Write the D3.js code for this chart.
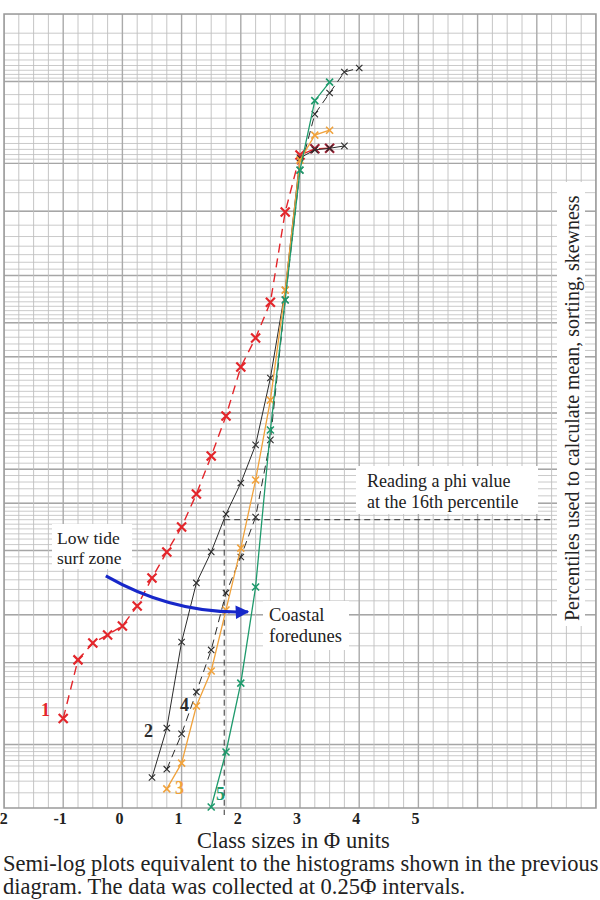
<!DOCTYPE html>
<html>
<head>
<meta charset="utf-8">
<script src="https://cdn.jsdelivr.net/npm/d3@7"></script>
<style>
  html, body { margin: 0; padding: 0; background: #fff; }
  svg { display: block; }
  text { font-family: "Liberation Serif", "DejaVu Serif", serif; }
</style>
</head>
<body>
<svg id="chart" width="600" height="900"></svg>
<script>
// Cumulative weight percent against grain size (phi), on probability paper.
const phiTicks = [-2, -1, 0, 1, 2, 3, 4, 5];

const s1Phi = [-1, -0.75, -0.5, -0.25, 0, 0.25, 0.5, 0.75, 1, 1.25, 1.5, 1.75, 2, 2.25, 2.5, 2.75, 3, 3.25, 3.5];
const s1Pct = [0.22, 1.07, 1.6, 1.93, 2.36, 3.6, 6.2, 9.77, 14.4, 22.5, 34.4, 48.9, 66.6, 75.8, 84.9, 96.95, 99.19, 99.31, 99.32];

const s2Phi = [0.5, 0.75, 1, 1.25, 1.5, 1.75, 2, 2.25, 2.5, 2.75, 3, 3.25, 3.5, 3.75];
const s2Pct = [0.034, 0.166, 1.64, 5.66, 9.77, 17.3, 25.7, 38.3, 62.8, 87.4, 99.13, 99.29, 99.32, 99.36];

const s3Phi = [0.75, 1, 1.25, 1.5, 1.75, 2, 2.25, 2.5, 2.75, 3, 3.25, 3.5];
const s3Pct = [0.023, 0.055, 0.316, 0.81, 3.32, 10.4, 26.6, 54.8, 87.4, 99.08, 99.52, 99.58];

const s4Phi = [0.75, 1, 1.25, 1.5, 1.75, 2, 2.25, 2.5, 2.75, 3, 3.25, 3.5, 3.75, 4];
const s4Pct = [0.045, 0.139, 0.466, 1.36, 4.67, 8.98, 16.6, 40.1, 85.4, 98.82, 99.733, 99.857, 99.926, 99.935];

const s5Phi = [1.5, 1.75, 2, 2.25, 2.5, 2.75, 3, 3.25, 3.5];
const s5Pct = [0.012, 0.079, 0.59, 5.24, 43.7, 85.4, 98.82, 99.82, 99.898];

// Probability-paper rulings (percent)
const rulePct = [].concat(
  d3.range(0.01, 0.1, 0.01), d3.range(0.1, 1, 0.1), [0.15, 1.5, 98.5, 99.85],
  d3.range(1, 10, 1), d3.range(10, 20, 1), d3.range(20, 80, 2), d3.range(80, 90, 1),
  d3.range(90, 99, 1), d3.range(99, 99.9, 0.1), d3.range(99.9, 99.995, 0.01)
);
const rulePctMajor = [0.1, 1, 3, 10, 20, 30, 50, 70, 80, 90, 97, 99, 99.9];

// Inverse standard normal CDF (Acklam)
function probit(p) {
  const a = [-3.969683028665376e+01, 2.209460984245205e+02, -2.759285104469687e+02, 1.383577518672690e+02, -3.066479806614716e+01, 2.506628277459239e+00];
  const b = [-5.447609879822406e+01, 1.615858368580409e+02, -1.556989798598866e+02, 6.680131188771972e+01, -1.328068155288572e+01];
  const c = [-7.784894002430293e-03, -3.223964580411365e-01, -2.400758277161838e+00, -2.549732539343734e+00, 4.374664141464968e+00, 2.938163982698783e+00];
  const d = [7.784695709041462e-03, 3.224671290700398e-01, 2.445134137142996e+00, 3.754408661907416e+00];
  const pl = 0.02425, ph = 1 - pl;
  if (p < pl) {
    const q = Math.sqrt(-2 * Math.log(p));
    return (((((c[0]*q+c[1])*q+c[2])*q+c[3])*q+c[4])*q+c[5]) / ((((d[0]*q+d[1])*q+d[2])*q+d[3])*q+1);
  }
  if (p <= ph) {
    const q = p - 0.5, r = q * q;
    return (((((a[0]*r+a[1])*r+a[2])*r+a[3])*r+a[4])*r+a[5])*q / (((((b[0]*r+b[1])*r+b[2])*r+b[3])*r+b[4])*r+1);
  }
  const q = Math.sqrt(-2 * Math.log(1 - p));
  return -(((((c[0]*q+c[1])*q+c[2])*q+c[3])*q+c[4])*q+c[5]) / ((((d[0]*q+d[1])*q+d[2])*q+d[3])*q+1);
}

const svg = d3.select("#chart");
const frameL = 4, frameR = 596, frameT = 14, frameB = 808;

const x = d3.scaleLinear().domain([-2, 8]).range([frameL, frameR]);
const zScale = d3.scaleLinear().domain([probit(0.0001), probit(0.9999)]).range([812, frameT]);
const y = pct => zScale(probit(pct / 100));

const defs = svg.append("defs");
defs.append("clipPath").attr("id", "frame")
  .append("rect").attr("x", frameL).attr("y", frameT).attr("width", frameR - frameL).attr("height", frameB - frameT);
const plot = svg.append("g");

// Grid
const grid = plot.append("g").attr("clip-path", "url(#frame)");
grid.selectAll("line.h").data(rulePct).join("line").attr("class", "h")
  .attr("x1", frameL).attr("x2", frameR)
  .attr("y1", d => y(d)).attr("y2", d => y(d))
  .attr("stroke", "#bcbcbc").attr("stroke-width", 0.8);
grid.selectAll("line.hm").data(rulePctMajor).join("line").attr("class", "hm")
  .attr("x1", frameL).attr("x2", frameR)
  .attr("y1", d => y(d)).attr("y2", d => y(d))
  .attr("stroke", "#a6a6a6").attr("stroke-width", 1.4);
grid.selectAll("line.v").data(d3.range(-2, 8.01, 0.25)).join("line").attr("class", "v")
  .attr("y1", frameT).attr("y2", frameB)
  .attr("x1", d => x(d)).attr("x2", d => x(d))
  .attr("stroke", d => Number.isInteger(d) ? "#aaaaaa" : "#bfbfbf")
  .attr("stroke-width", d => Number.isInteger(d) ? 1.4 : 0.9);
plot.append("rect").attr("x", frameL).attr("y", frameT).attr("width", frameR - frameL).attr("height", frameB - frameT)
  .attr("fill", "none").attr("stroke", "#9a9a9a").attr("stroke-width", 1.5);

// White label panels over the grid
function panel(x0, y0, w, h) {
  plot.append("rect").attr("x", x0).attr("y", y0).attr("width", w).attr("height", h).attr("fill", "#fff");
}
panel(356, 466, 182, 48);
panel(52, 524, 80, 45);
panel(263, 601, 86, 49);
panel(557, 182, 28, 444);

// 16th percentile reading
const dashPhi = 1.72;
plot.append("line").attr("x1", x(dashPhi)).attr("x2", x(7.3)).attr("y1", y(16)).attr("y2", y(16))
  .attr("stroke", "#333").attr("stroke-width", 1).attr("stroke-dasharray", "6,4");
plot.append("line").attr("x1", x(dashPhi)).attr("x2", x(dashPhi)).attr("y1", y(16)).attr("y2", frameB + 7)
  .attr("stroke", "#333").attr("stroke-width", 1).attr("stroke-dasharray", "6,4");

// Series
const series = [
  { phi: s1Phi, pct: s1Pct, color: "#e3262b", dash: "9,6", width: 1.4, mk: 4.5, mkw: 2.2, deep: 17 },
  { phi: s2Phi, pct: s2Pct, color: "#2b2b2b", dash: null, width: 1, mk: 3.2, mkw: 1.1 },
  { phi: s4Phi, pct: s4Pct, color: "#2b2b2b", dash: "8,5", width: 1, mk: 3.2, mkw: 1.1 },
  { phi: s3Phi, pct: s3Pct, color: "#f0a23c", dash: null, width: 1.3, mk: 3.5, mkw: 1.6 },
  { phi: s5Phi, pct: s5Pct, color: "#1e9a6c", dash: null, width: 1.3, mk: 3.5, mkw: 1.6 }
];
const line = d3.line().x(d => x(d[0])).y(d => y(d[1]));
series.forEach(s => {
  const pts = s.phi.map((p, i) => [p, s.pct[i], i]);
  const g = plot.append("g");
  g.append("path").datum(pts).attr("d", line).attr("fill", "none")
    .attr("stroke", s.color).attr("stroke-width", s.width)
    .attr("stroke-dasharray", s.dash);
  g.selectAll("path.mk").data(pts).join("path").attr("class", "mk")
    .attr("d", d => {
      const cx = x(d[0]), cy = y(d[1]), r = s.mk;
      return `M${cx - r},${cy - r}L${cx + r},${cy + r}M${cx - r},${cy + r}L${cx + r},${cy - r}`;
    })
    .attr("stroke", d => (s.deep !== undefined && d[2] >= s.deep) ? "#9e1f33" : s.color)
    .attr("stroke-width", s.mkw).attr("fill", "none");
});

// Blue arrow from the surf-zone note to the dune curve
defs.append("marker").attr("id", "head")
  .attr("viewBox", "0 0 10 10").attr("refX", 9).attr("refY", 5)
  .attr("markerWidth", 5).attr("markerHeight", 4.5).attr("markerUnits", "strokeWidth")
  .attr("orient", "auto")
  .append("path").attr("d", "M0,0L10,5L0,10Z").attr("fill", "#1727c9");
const arrowFrom = [-0.28, 6.45], arrowVia = [0.87, 3.0], arrowTo = [2.12, 3.2];
const ap = d3.path();
ap.moveTo(x(arrowFrom[0]), y(arrowFrom[1]));
ap.quadraticCurveTo(x(arrowVia[0]), y(arrowVia[1]), x(arrowTo[0]), y(arrowTo[1]));
plot.append("path").attr("d", ap.toString()).attr("fill", "none")
  .attr("stroke", "#1727c9").attr("stroke-width", 3).attr("marker-end", "url(#head)");

// Text annotations
const T = (tx, ty, str, size, fill, weight) => plot.append("text").attr("x", tx).attr("y", ty)
  .attr("font-size", size).attr("fill", fill || "#222").attr("font-weight", weight || "normal").text(str);
T(367, 487, "Reading a phi value", 18);
T(367, 508, "at the 16th percentile", 18);
T(57, 544, "Low tide", 17.5);
T(57, 564, "surf zone", 17.5);
T(269, 621, "Coastal", 18.5);
T(269, 642, "foredunes", 18.5);

plot.append("text").attr("transform", "translate(579,621) rotate(-90)")
  .attr("font-size", 20).attr("fill", "#222").text("Percentiles used to calculate mean, sorting, skewness");

// Curve numbers
T(41, 716, "1", 18, "#e3262b", "bold");
T(144, 737, "2", 18, "#2b2b2b", "bold");
T(175, 794, "3", 18, "#f0a23c", "bold");
T(180, 711, "4", 18, "#2b2b2b", "bold");
T(216, 800, "5", 18, "#1e9a6c", "bold");

// Phi axis labels
plot.selectAll("text.tick").data(phiTicks).join("text").attr("class", "tick")
  .attr("x", d => x(d) - 3).attr("y", 824).attr("text-anchor", "middle")
  .attr("font-size", 16).attr("font-weight", "bold").attr("fill", "#222")
  .text(d => d);

T(197, 848, "Class sizes in \u03A6 units", 22.5);
T(3, 871, "Semi-log plots equivalent to the histograms shown in the previous", 22.5);
T(3, 894, "diagram. The data was collected at 0.25\u03A6 intervals.", 22.5);
</script>
</body>
</html>
